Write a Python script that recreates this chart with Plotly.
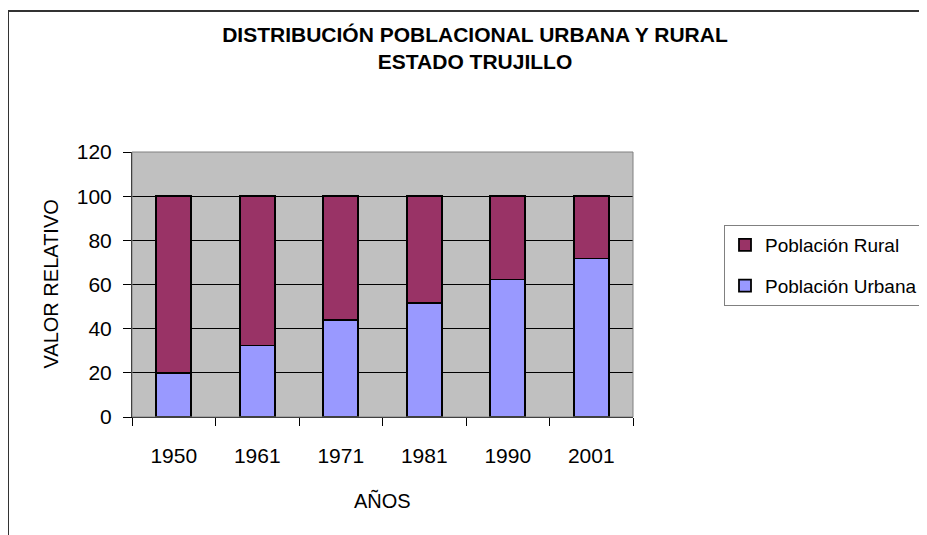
import plotly.graph_objects as go

years = ["1950", "1961", "1971", "1981", "1990", "2001"]
urbana = [20.0, 32.4, 43.8, 51.8, 62.3, 71.8]
rural = [80.0, 67.6, 56.2, 48.2, 37.7, 28.2]
y_ticks = [0, 20, 40, 60, 80, 100, 120]

FONT = "Liberation Sans, Arial, sans-serif"

# page is shown with an 8px body margin: figure coords = screen coords - 8
OFF = 8
W, H = 927, 535
L, T = 132 - OFF, 152 - OFF
pw = 633 - 132
ph = 417 - 152
R = W - L - pw
B = H - T - ph


def px_x(px):
    # px given in screen (reference) pixels
    return (px - OFF - L) / pw


def px_y(py):
    return (T + ph - (py - OFF)) / ph


fig = go.Figure()
fig.add_trace(go.Bar(x=years, y=urbana, name="Población Urbana", legendgroup="u",
                     legendrank=2,
                     marker=dict(color="#9999FF", line=dict(color="#000000", width=1.8)),
                     width=0.42))
fig.add_trace(go.Bar(x=years, y=rural, name="Población Rural", legendgroup="r",
                     legendrank=1,
                     marker=dict(color="#993366", line=dict(color="#000000", width=1.8)),
                     width=0.42))

fig.update_layout(
    width=W, height=H,
    margin=dict(l=L, r=R, t=T, b=B, pad=0, autoexpand=False),
    barmode="stack",
    paper_bgcolor="white",
    plot_bgcolor="#C0C0C0",
    font=dict(family=FONT, size=20, color="#000000"),
    title=dict(text="<b>DISTRIBUCIÓN POBLACIONAL URBANA Y RURAL<br>ESTADO TRUJILLO</b>",
               x=(475 - OFF) / W, xanchor="center", y=1 - 34 / H, yanchor="top",
               font=dict(family=FONT, size=21, color="#000000")),
    xaxis=dict(
        automargin=False,
        showline=True, linecolor="#000000", linewidth=1,
        ticks="outside", ticklen=8, tickcolor="#000000", tickson="boundaries",
        ticklabelstandoff=20,
        showgrid=False, tickfont=dict(size=21),
    ),
    yaxis=dict(
        automargin=False,
        range=[0, 120], tickvals=y_ticks, ticktext=[str(v) for v in y_ticks],
        showline=True, linecolor="#000000", linewidth=1,
        ticks="outside", ticklen=8, tickcolor="#000000",
        ticklabelstandoff=7,
        showgrid=True, gridcolor="#000000", gridwidth=1,
        tickfont=dict(size=21), zeroline=False,
    ),
    legend=dict(
        xref="container", yref="container",
        x=(724 - OFF) / W, y=1 - (225 - OFF) / H, xanchor="left", yanchor="top",
        traceorder="grouped", tracegroupgap=13,
        bgcolor="white",
        bordercolor="#808080", borderwidth=1,
        font=dict(size=19), itemwidth=30,
    ),
    bargap=0.58,
    showlegend=True,
    annotations=[
        dict(text="AÑOS", xref="paper", yref="paper", x=0.5, y=px_y(500),
             xanchor="center", yanchor="middle", showarrow=False,
             font=dict(size=20)),
        dict(text="VALOR RELATIVO", xref="paper", yref="paper", x=px_x(50), y=0.5,
             xanchor="center", yanchor="middle", showarrow=False, textangle=-90,
             font=dict(size=20)),
    ],
)

# plot-area border (gray top and right)
fig.add_shape(type="rect", xref="paper", yref="paper", x0=0, y0=0, x1=1, y1=1,
              line=dict(color="#808080", width=1), layer="above")
# outer chart frame (left and top edges visible)
fig.add_shape(type="line", xref="paper", yref="paper",
              x0=px_x(8), y0=px_y(11), x1=px_x(940), y1=px_y(11),
              line=dict(color="#333333", width=2))
fig.add_shape(type="line", xref="paper", yref="paper",
              x0=px_x(8), y0=px_y(11), x1=px_x(8), y1=px_y(550),
              line=dict(color="#333333", width=2))

fig.write_html("out.html")
